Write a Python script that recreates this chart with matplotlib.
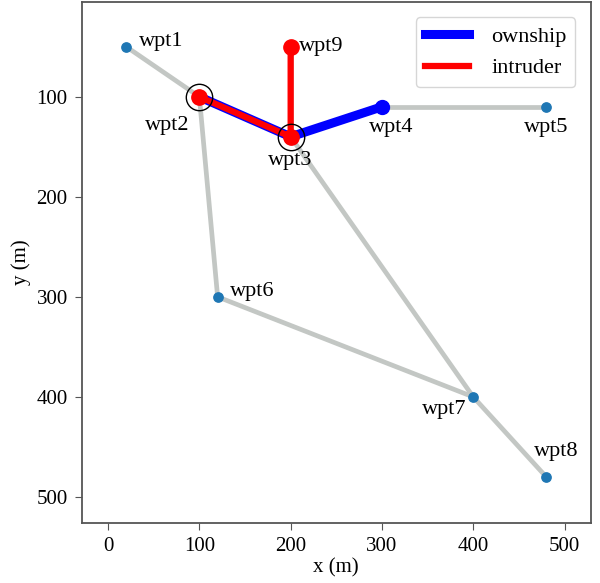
import matplotlib.pyplot as plt

plt.rcParams['font.family'] = ['Liberation Serif', 'DejaVu Serif']

# waypoints
names = ["wpt1", "wpt2", "wpt3", "wpt4", "wpt5", "wpt6", "wpt7", "wpt8", "wpt9"]
wx = [20, 100, 200, 300, 480, 120, 400, 480, 200]
wy = [50, 100, 140, 110, 110, 300, 400, 480, 50]

# graph edges (waypoint names)
edges = [("wpt1", "wpt2"), ("wpt2", "wpt3"), ("wpt3", "wpt4"), ("wpt4", "wpt5"),
         ("wpt2", "wpt6"), ("wpt6", "wpt7"), ("wpt3", "wpt7"), ("wpt7", "wpt8"),
         ("wpt3", "wpt9")]

ownship_route = ["wpt2", "wpt3", "wpt4"]
intruder_route = ["wpt9", "wpt3", "wpt2"]
conflict_wpts = ["wpt2", "wpt3"]

# label offsets in points (dx, dy, ha)
label_pos = {
    "wpt1": (9, 4, "left"), "wpt2": (-7, -21, "right"), "wpt3": (0, -17, "center"),
    "wpt4": (7, -15, "center"), "wpt5": (0, -15, "center"), "wpt6": (9, 4, "left"),
    "wpt7": (-5, -9, "right"), "wpt8": (7, 18, "center"), "wpt9": (6, 0, "left"),
}

idx = {n: i for i, n in enumerate(names)}

fig, ax = plt.subplots(figsize=(6, 5.83), dpi=100)
fig.subplots_adjust(left=0.136, right=0.985, top=0.997, bottom=0.103)

for a, b in edges:
    ax.plot([wx[idx[a]], wx[idx[b]]], [wy[idx[a]], wy[idx[b]]],
            color='#c3c7c4', lw=3.4, solid_capstyle='butt', zorder=1)

ax.scatter(wx, wy, s=45, color='tab:blue', zorder=2)

ox = [wx[idx[n]] for n in ownship_route]
oy = [wy[idx[n]] for n in ownship_route]
ix = [wx[idx[n]] for n in intruder_route]
iy = [wy[idx[n]] for n in intruder_route]

ax.plot(ox, oy, color='blue', lw=6.5, zorder=3, label='ownship')
ax.plot(ox, oy, ls='none', color='blue', marker='o', ms=10, zorder=3)
ax.plot(ix, iy, color='red', lw=4.5, zorder=4, label='intruder')
ax.plot(ix, iy, ls='none', color='red', marker='o', ms=11, zorder=4)

ax.plot([wx[idx[n]] for n in conflict_wpts], [wy[idx[n]] for n in conflict_wpts],
        ls='none', marker='o', ms=19, mfc='none', mec='black', mew=1.0, zorder=5)

for n in names:
    dx, dy, ha = label_pos[n]
    ax.annotate(n, (wx[idx[n]], wy[idx[n]]), xytext=(dx, dy),
                textcoords='offset points', ha=ha, va='center', fontsize=16)

ax.set_xlim(-29, 529)
ax.set_ylim(526, 5)
ax.set_xticks([0, 100, 200, 300, 400, 500])
ax.set_yticks([100, 200, 300, 400, 500])
ax.tick_params(labelsize=15, color='#555555', length=5, pad=5)
for s in ax.spines.values():
    s.set_color('#555555')
    s.set_linewidth(1.3)
ax.set_xlabel("x (m)", fontsize=15, labelpad=2)
ax.set_ylabel("y (m)", fontsize=15, labelpad=4)
ax.legend(loc='upper right', fontsize=16, handlelength=2.0, handletextpad=1.0,
          borderaxespad=0.7)

fig.savefig("out.png")
